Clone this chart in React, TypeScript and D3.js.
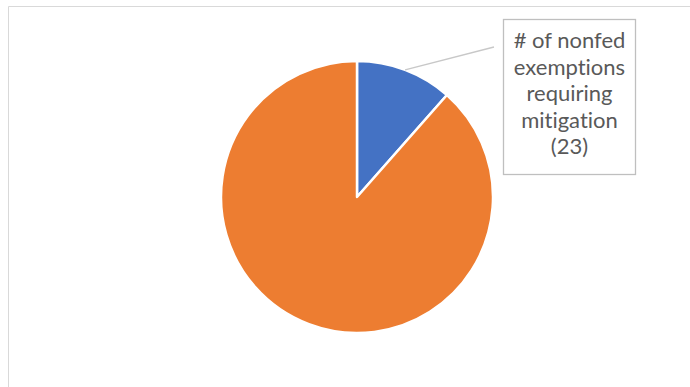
import React from "react";
import * as d3 from "d3";

const categories = ["# of nonfed exemptions requiring mitigation", "Other nonfed exemptions"];
const values = [23, 177];
const colors = ["#4472C4", "#ED7D31"];
const labelLines = ["# of nonfed", "exemptions", "requiring", "mitigation", "(23)"];

export default function App() {
  const W = 690, H = 387;
  const cx = 357, cy = 197, r = 136;
  const pie = d3.pie<number>().sort(null).value((d) => d)(values);
  const arc = d3.arc<d3.PieArcDatum<number>>().innerRadius(0).outerRadius(r);
  const first = pie[0];
  const mid = (first.startAngle + first.endAngle) / 2;
  const lx0 = cx + r * Math.sin(mid);
  const ly0 = cy - r * Math.cos(mid);
  const box = { x: 503, y: 19, w: 132, h: 155 };
  return (
    <svg width={W} height={H} style={{ position: "absolute", left: 0, top: 0 }}>
      <rect x={0} y={0} width={W} height={H} fill="#fff" />
      <path d={`M8.5,${H} L8.5,6.5 L${W},6.5`} fill="none" stroke="#d9d9d9" strokeWidth={1} />
      <g transform={`translate(${cx},${cy})`}>
        {pie.map((d, i) => (
          <path key={categories[i]} d={arc(d) || ""} fill={colors[i]} stroke="#fff" strokeWidth={2.5} strokeLinejoin="round" />
        ))}
      </g>
      <line x1={lx0} y1={ly0} x2={494} y2={47} stroke="#c8c8c8" strokeWidth={1.3} />
      <rect x={box.x + 0.5} y={box.y + 0.5} width={box.w} height={box.h} fill="#fff" stroke="#bfbfbf" strokeWidth={1.3} />
      {labelLines.map((t, i) => (
        <text key={i} x={box.x + box.w / 2 + 0.5} y={48 + i * 26.5} textAnchor="middle" fontFamily="Lato, 'Open Sans', sans-serif" fontSize={22} fill="#595959" style={{ fontVariantLigatures: "none" }}>
          {t}
        </text>
      ))}
    </svg>
  );
}
